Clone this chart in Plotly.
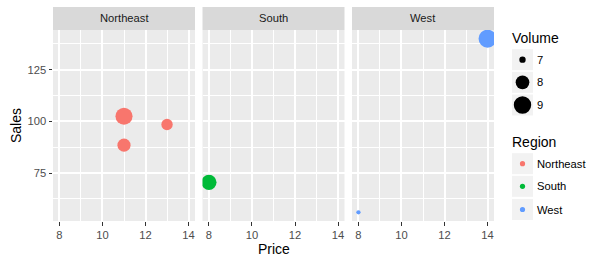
import plotly.graph_objects as go

# ---- data ----
regions = ["Northeast", "South", "West"]
region = ["Northeast", "Northeast", "Northeast", "South", "West", "West"]
price = [11, 13, 11, 8, 14, 8]
sales = [102.5, 98.5, 88.5, 70.5, 140, 56]
volume = [8.9, 7.55, 7.9, 8.35, 9.2, 6.95]
region_colors = {"Northeast": "#F8766D", "South": "#00BA38", "West": "#619CFF"}
volume_breaks = [7, 8, 9]
x_ticks = [8, 10, 12, 14]
x_minor = [9, 11, 13]
y_ticks = [75, 100, 125]
y_minor = [62.5, 87.5, 112.5, 137.5]

# ---- layout geometry (pixels) ----
W, H = 612, 264
L, R, T, B = 53, 118, 7, 43
PW = W - L - R
PH = H - T - B
STRIP_BOTTOM = 30
panels_px = [(53, 195), (202.5, 344.5), (352, 494)]


def px2x(px):
    return (px - L) / PW


def py2y(py):
    return (T + PH - py) / PH


vmin, vmax = min(volume), max(volume)
dmin, dmax = 4.3, 18.0


def vol_size(v):
    t = max(0.0, (v - vmin) / (vmax - vmin))
    return dmin + (dmax - dmin) * t ** 0.5


xr = [7.7, 14.3]
span = max(sales) - min(sales)
yr = [min(sales) - 0.05 * span, max(sales) + 0.05 * span]

FONT = "Liberation Sans, Arial, sans-serif"
fig = go.Figure()

for i, reg in enumerate(regions):
    idx = [k for k, r in enumerate(region) if r == reg]
    sfx = "" if i == 0 else str(i + 1)
    fig.add_trace(go.Scatter(
        x=[price[k] for k in idx],
        y=[sales[k] for k in idx],
        mode="markers",
        marker=dict(size=[vol_size(volume[k]) for k in idx],
                    sizemode="diameter", opacity=1,
                    color=region_colors[reg], line=dict(width=0)),
        xaxis="x" + sfx, yaxis="y" + sfx,
        showlegend=False, hoverinfo="skip", cliponaxis=True,
    ))

axis_common = dict(
    ticks="outside", ticklen=3.5, tickwidth=1.1, tickcolor="#333333",
    tickfont=dict(family=FONT, size=11.2, color="#4D4D4D"),
    showgrid=True, gridcolor="white", gridwidth=1.8,
    zeroline=False, showline=False, fixedrange=True,
)

layout = dict(
    width=W, height=H, margin=dict(l=L, r=R, t=T, b=B),
    plot_bgcolor="#EBEBEB", paper_bgcolor="white",
    showlegend=False, font=dict(family=FONT),
)

for i, (a, b) in enumerate(panels_px):
    sfx = "" if i == 0 else str(i + 1)
    layout["xaxis" + sfx] = dict(
        axis_common, domain=[px2x(a), px2x(b)], range=xr,
        tickmode="array", tickvals=x_ticks, ticktext=[str(v) for v in x_ticks],
        minor=dict(tickvals=x_minor, showgrid=True, gridcolor="white",
                   gridwidth=0.9, ticks=""),
        anchor="y" + sfx,
    )
    ya = dict(
        axis_common, domain=[0, py2y(STRIP_BOTTOM)], range=yr,
        tickmode="array", tickvals=y_ticks, ticktext=[str(v) for v in y_ticks],
        minor=dict(tickvals=y_minor, showgrid=True, gridcolor="white",
                   gridwidth=0.9, ticks=""),
        anchor="x" + sfx,
    )
    if i > 0:
        ya["showticklabels"] = False
        ya["ticks"] = ""
    layout["yaxis" + sfx] = ya

fig.update_layout(**layout)

shapes = []
annotations = []

# facet strips
for (a, b), reg in zip(panels_px, regions):
    shapes.append(dict(type="rect", xref="paper", yref="paper",
                       x0=px2x(a), x1=px2x(b), y0=py2y(STRIP_BOTTOM), y1=py2y(7),
                       fillcolor="#D9D9D9", line=dict(width=0)))
    annotations.append(dict(text=reg, xref="paper", yref="paper",
                            x=px2x((a + b) / 2), y=py2y(18.5),
                            xanchor="center", yanchor="middle", showarrow=False,
                            font=dict(family=FONT, size=11.2, color="#1A1A1A")))

# axis titles
annotations.append(dict(text="Price", xref="paper", yref="paper",
                        x=px2x(273.5), y=py2y(249), xanchor="center", yanchor="middle",
                        showarrow=False, font=dict(family=FONT, size=14, color="black")))
annotations.append(dict(text="Sales", xref="paper", yref="paper",
                        x=px2x(15.5), y=py2y(125.5), xanchor="center", yanchor="middle",
                        textangle=-90, showarrow=False,
                        font=dict(family=FONT, size=14, color="black")))

# legends
KEY_X0, KEY_X1 = 512, 533
LABEL_X = 535


def legend_title(text, cy):
    annotations.append(dict(text=text, xref="paper", yref="paper",
                            x=px2x(510), y=py2y(cy), xanchor="left", yanchor="middle",
                            showarrow=False,
                            font=dict(family=FONT, size=14, color="black")))


def legend_item(label, cy, diam, color):
    shapes.append(dict(type="rect", xref="paper", yref="paper",
                       x0=px2x(KEY_X0), x1=px2x(KEY_X1),
                       y0=py2y(cy + 10.5), y1=py2y(cy - 10.5),
                       fillcolor="#F2F2F2", line=dict(width=0)))
    r = diam / 2
    shapes.append(dict(type="circle", xref="paper", yref="paper",
                       xsizemode="pixel", ysizemode="pixel",
                       xanchor=px2x((KEY_X0 + KEY_X1) / 2), yanchor=py2y(cy),
                       x0=-r, x1=r, y0=-r, y1=r,
                       fillcolor=color, line=dict(width=0)))
    annotations.append(dict(text=label, xref="paper", yref="paper",
                            x=px2x(LABEL_X), y=py2y(cy), xanchor="left", yanchor="middle",
                            showarrow=False,
                            font=dict(family=FONT, size=11.2, color="black")))


legend_title("Volume", 38)
for v, cy in zip(volume_breaks, [59.7, 82.3, 105]):
    legend_item(str(v), cy, vol_size(v), "black")

legend_title("Region", 142.3)
for reg, cy in zip(regions, [163.7, 186.3, 209.5]):
    legend_item(reg, cy, 5.2, region_colors[reg])

fig.update_layout(shapes=shapes, annotations=annotations)
fig.write_html("out.html")
